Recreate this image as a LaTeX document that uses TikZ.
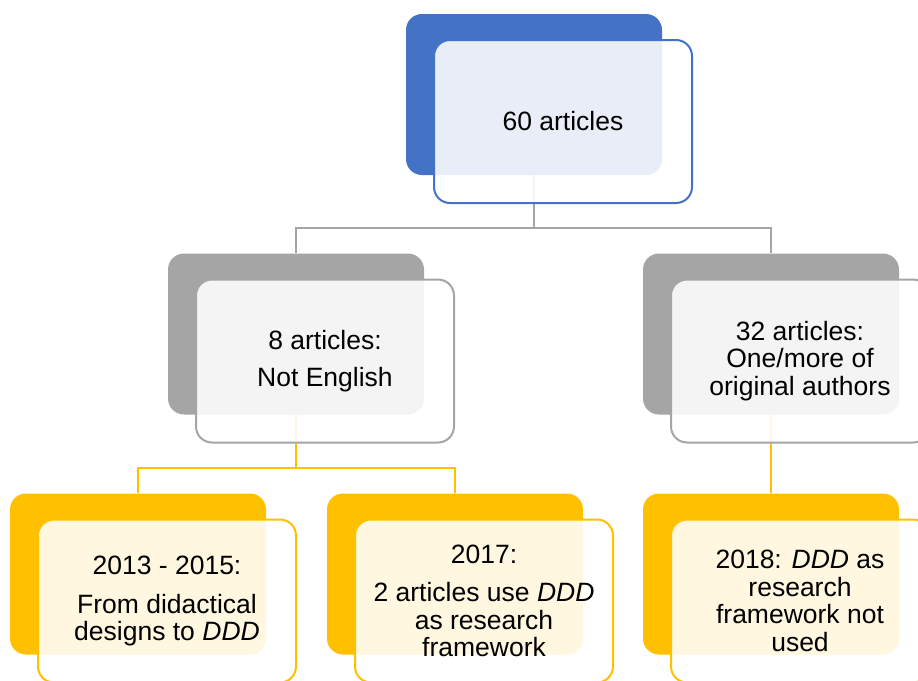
\documentclass[tikz,border=0pt]{standalone}
\usepackage{fontspec}
\setmainfont{Liberation Sans}
\definecolor{cblue}{HTML}{4472C4}
\definecolor{cgray}{HTML}{A5A5A5}
\definecolor{cgold}{HTML}{FFC000}
\begin{document}
\begin{tikzpicture}[x=1pt,y=-1pt,
  backbox/.style={rectangle, rounded corners=16pt, fill=#1, draw=none,
    minimum width=256pt, minimum height=161pt, inner sep=0pt},
  frontbox/.style={rectangle, rounded corners=16pt, draw=#1, line width=2pt,
    fill=white, fill opacity=0.88, text opacity=1,
    minimum width=258pt, minimum height=163pt, inner sep=0pt,
    align=center, font=\fontsize{26.5}{27.5}\selectfont},
  link/.style={draw=#1, line width=2.3pt}]
\useasboundingbox (0,0) rectangle (918,680);
\clip (0,0) rectangle (918,680);

% back panels
\node[backbox=cblue] (tb) at (534,94.5) {};
\node[backbox=cgray] (gl) at (296,334) {};
\node[backbox=cgray] (gr) at (771,334) {};
\node[backbox=cgold] (yl) at (138,574) {};
\node[backbox=cgold] (ym) at (455,574) {};
\node[backbox=cgold] (yr) at (771,574) {};

% connectors
\coordinate (j1) at (534,228);
\coordinate (j2) at (296,468);
\draw[link=cgray] (tb.south) -- (j1) -| (gl.north);
\draw[link=cgray] (j1) -| (gr.north);
\draw[link=cgold] (gl.south) -- (j2) -| (yl.north);
\draw[link=cgold] (j2) -| (ym.north);
\draw[link=cgold] (gr.south) -- (yr.north);

% front panels with text
\node[frontbox=cblue] (tf) at (563,121.5) {60 articles};
\node[frontbox=cgray] (glf) at (325,361) {8 articles:\\[9pt]Not English};
\node[frontbox=cgray] (grf) at (800,361) {32 articles:\\One/more of\\original authors};
\node[frontbox=cgold] (ylf) at (167,601) {2013 - 2015:\\[11pt]From didactical\\designs to \textit{DDD}};
\node[frontbox=cgold] (ymf) at (484,601) {2017:\\[11pt]2 articles use \textit{DDD}\\as research\\framework};
\node[frontbox=cgold] (yrf) at (800,601) {2018: \textit{DDD} as\\research\\framework not\\used};
\end{tikzpicture}
\end{document}
